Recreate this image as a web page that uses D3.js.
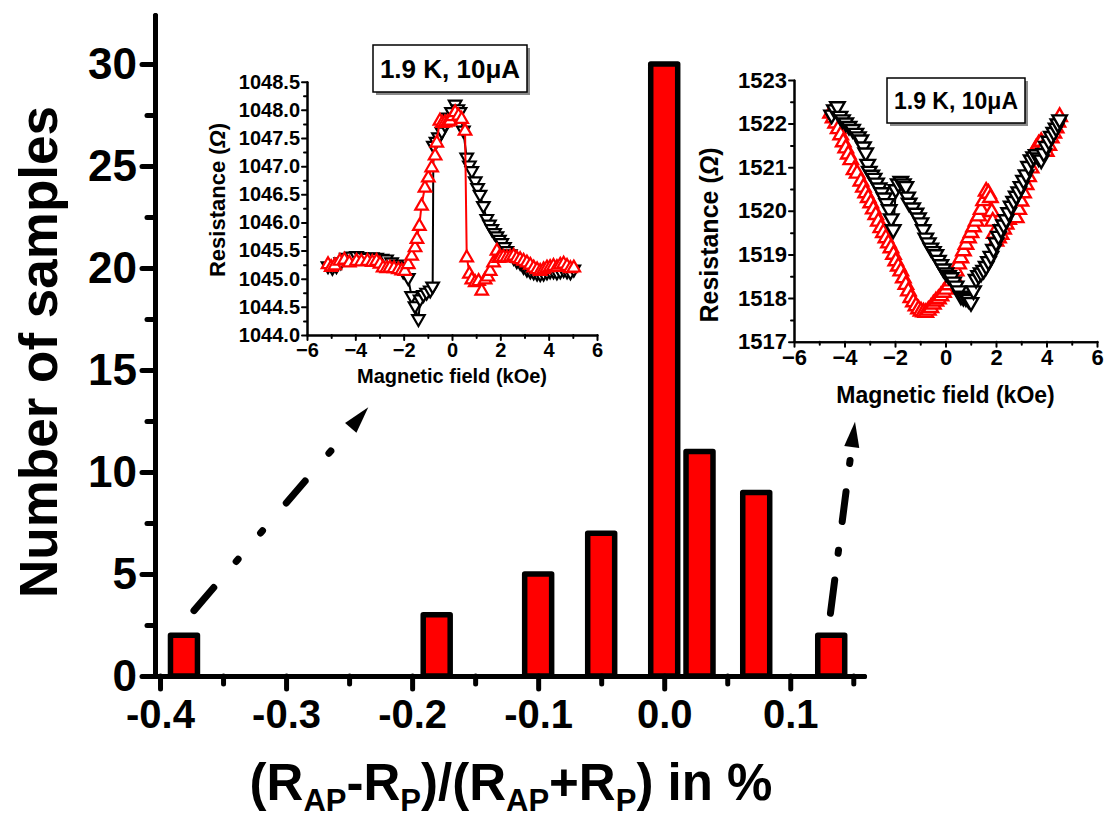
<!DOCTYPE html>
<html>
<head>
<meta charset="utf-8">
<script src="https://cdn.jsdelivr.net/npm/d3@7"></script>
<style>
  html, body { margin: 0; padding: 0; background: #fff; }
  svg { display: block; }
  text { font-family: "Liberation Sans", Arial, sans-serif; font-weight: bold; fill: #000; }
</style>
</head>
<body>
<svg id="chart" width="1106" height="819"></svg>
<script>
// ---- Histogram: TMR ratio distribution ----
const histCenters = [-0.381, -0.1805, -0.1, -0.05, 0.0, 0.028, 0.073, 0.1325];
const histCounts  = [2, 3, 5, 7, 30, 11, 9, 2];
const histBarWidth = 0.0214;
const xTickValues = [-0.4, -0.3, -0.2, -0.1, 0.0, 0.1];
const xTickLabels = ["-0.4", "-0.3", "-0.2", "-0.1", "0.0", "0.1"];
const yTickValues = [0, 5, 10, 15, 20, 25, 30];
const yTickLabels = ["0", "5", "10", "15", "20", "25", "30"];

// ---- Left inset: R(H) sweeps, sample with negative ratio ----
const in1FieldDown = [-5.13,-4.95,-4.78,-4.6,-4.37,-4.15,-3.95,-3.75,-3.54,-3.3,-3.12,-2.9,-2.71,-2.5,-2.29,-2.15,-2.02,-1.81,-1.67,-1.53,-1.39,-1.32,-1.18,-1.05,-0.9,-0.8,-0.77,-0.66,-0.56,-0.42,-0.29,-0.15,-0.02,0.13,0.24,0.33,0.47,0.61,0.72,0.82,0.96,1.06,1.16,1.30,1.44,1.55,1.65,1.76,1.86,1.96,2.06,2.17,2.27,2.41,2.55,2.68,2.82,2.96,3.1,3.24,3.38,3.52,3.65,3.79,3.93,4.06,4.2,4.34,4.48,4.62,4.76,4.9,5.04];
const in1ResDown   = [1045.21,1045.18,1045.21,1045.28,1045.36,1045.38,1045.39,1045.37,1045.36,1045.37,1045.36,1045.34,1045.33,1045.28,1045.24,1045.2,1045.12,1045.0,1044.68,1044.5,1044.27,1044.62,1044.7,1044.74,1044.78,1044.85,1047.35,1047.42,1047.5,1047.6,1047.72,1047.85,1047.95,1048.08,1048.0,1047.95,1047.62,1047.14,1047.0,1046.9,1046.72,1046.6,1046.48,1046.28,1046.05,1045.95,1045.87,1045.8,1045.74,1045.68,1045.62,1045.55,1045.48,1045.42,1045.36,1045.3,1045.27,1045.2,1045.15,1045.12,1045.1,1045.08,1045.07,1045.08,1045.1,1045.12,1045.12,1045.1,1045.12,1045.14,1045.12,1045.1,1045.15];
const in1FieldUp = [-5.13,-5.0,-4.85,-4.64,-4.45,-4.25,-3.95,-3.75,-3.5,-3.3,-3.12,-2.98,-2.85,-2.7,-2.57,-2.4,-2.22,-2.08,-1.95,-1.81,-1.67,-1.53,-1.45,-1.35,-1.26,-1.12,-0.98,-0.84,-0.7,-0.63,-0.5,-0.4,-0.29,-0.18,-0.08,0.03,0.13,0.27,0.4,0.54,0.61,0.72,0.82,0.96,1.1,1.23,1.37,1.48,1.58,1.72,1.86,1.93,2.0,2.13,2.27,2.41,2.55,2.68,2.82,2.96,3.1,3.24,3.38,3.52,3.65,3.79,3.93,4.06,4.2,4.34,4.48,4.62,4.76,4.9,5.04];
const in1ResUp   = [1045.27,1045.22,1045.25,1045.33,1045.35,1045.3,1045.33,1045.32,1045.33,1045.31,1045.33,1045.28,1045.21,1045.2,1045.21,1045.2,1045.18,1045.16,1045.15,1045.27,1045.42,1045.57,1045.72,1045.95,1046.31,1046.63,1046.81,1046.99,1047.2,1047.43,1047.82,1047.78,1047.79,1047.8,1047.82,1047.9,1047.97,1047.91,1047.85,1047.64,1045.39,1045.1,1045.0,1044.95,1044.97,1044.8,1045.0,1045.05,1045.15,1045.3,1045.51,1045.38,1045.39,1045.4,1045.39,1045.4,1045.42,1045.38,1045.36,1045.33,1045.3,1045.26,1045.21,1045.18,1045.15,1045.18,1045.21,1045.22,1045.24,1045.22,1045.26,1045.28,1045.24,1045.2,1045.21];
const in1YTicks = [1044.0,1044.5,1045.0,1045.5,1046.0,1046.5,1047.0,1047.5,1048.0,1048.5];

// ---- Right inset: R(H) sweeps, sample with positive ratio ----
const in2FieldDown = [-4.51,-4.4,-4.28,-4.18,-4.08,-3.95,-3.82,-3.68,-3.55,-3.45,-3.35,-3.25,-3.16,-3.08,-3.02,-2.92,-2.83,-2.73,-2.63,-2.53,-2.43,-2.33,-2.23,-2.15,-2.07,-1.97,-1.87,-1.77,-1.67,-1.57,-1.5,-1.44,-1.3,-1.17,-1.07,-0.97,-0.88,-0.78,-0.68,-0.58,-0.48,-0.38,-0.28,-0.18,-0.08,0.02,0.12,0.22,0.32,0.42,0.52,0.61,0.71,0.81,0.91,1.01,1.11,1.21,1.31,1.41,1.51,1.61,1.7,1.8,1.9,2.0,2.1,2.2,2.3,2.4,2.5,2.6,2.7,2.8,2.9,2.99,3.09,3.19,3.29,3.39,3.49,3.59,3.69,3.79,3.89,3.99,4.09,4.19,4.29,4.38,4.45,4.52];
const in2ResDown   = [1522.18,1522.3,1522.37,1522.15,1522.07,1522.0,1521.92,1521.85,1521.76,1521.68,1521.61,1521.45,1521.31,1521.05,1520.89,1520.8,1520.73,1520.62,1520.51,1520.4,1520.28,1520.15,1520.01,1519.8,1519.55,1520.47,1520.6,1520.66,1520.6,1520.54,1520.3,1520.16,1520.05,1519.93,1519.82,1519.71,1519.55,1519.36,1519.25,1519.13,1519.05,1518.98,1518.85,1518.75,1518.65,1518.56,1518.5,1518.45,1518.35,1518.26,1518.15,1518.03,1518.0,1517.99,1517.95,1517.88,1518.15,1518.41,1518.5,1518.56,1518.62,1518.71,1518.82,1518.94,1519.1,1519.25,1519.4,1519.55,1519.66,1519.78,1519.94,1520.09,1520.2,1520.32,1520.42,1520.54,1520.68,1520.81,1521.0,1521.15,1521.22,1521.27,1521.2,1521.15,1521.3,1521.46,1521.58,1521.69,1521.78,1521.88,1521.98,1522.07];
const in2FieldUp = [-4.55,-4.45,-4.35,-4.25,-4.15,-4.05,-3.95,-3.85,-3.75,-3.62,-3.5,-3.35,-3.25,-3.16,-3.06,-2.96,-2.86,-2.76,-2.66,-2.56,-2.46,-2.36,-2.26,-2.16,-2.06,-1.97,-1.87,-1.77,-1.67,-1.57,-1.47,-1.37,-1.27,-1.17,-1.07,-0.97,-0.87,-0.78,-0.68,-0.58,-0.48,-0.38,-0.28,-0.18,-0.08,0.02,0.12,0.22,0.32,0.42,0.52,0.61,0.71,0.81,0.91,1.01,1.11,1.21,1.31,1.41,1.51,1.61,1.7,1.78,1.83,1.87,1.93,2.0,2.1,2.2,2.3,2.4,2.5,2.6,2.7,2.8,2.9,2.99,3.09,3.19,3.29,3.39,3.49,3.59,3.69,3.79,3.89,3.99,4.09,4.19,4.29,4.38,4.45,4.52];
const in2ResUp   = [1522.26,1522.15,1522.03,1521.9,1521.76,1521.6,1521.46,1521.32,1521.19,1520.96,1520.88,1520.7,1520.56,1520.43,1520.32,1520.2,1520.06,1519.93,1519.78,1519.63,1519.52,1519.4,1519.28,1519.17,1519.02,1518.87,1518.75,1518.64,1518.48,1518.33,1518.18,1518.03,1517.93,1517.84,1517.77,1517.72,1517.7,1517.69,1517.74,1517.8,1517.88,1517.95,1518.0,1518.07,1518.15,1518.22,1518.32,1518.41,1518.52,1518.64,1518.8,1518.94,1519.1,1519.25,1519.4,1519.52,1519.65,1519.78,1519.9,1520.05,1520.25,1520.47,1520.42,1520.32,1520.0,1519.78,1519.5,1519.32,1519.4,1519.48,1519.6,1519.71,1519.82,1519.93,1519.9,1519.86,1520.05,1520.24,1520.43,1520.62,1520.8,1521.0,1521.25,1521.46,1521.55,1521.61,1521.5,1521.38,1521.52,1521.69,1521.8,1521.92,1522.05,1522.18];
const in2YTicks = [1517,1518,1519,1520,1521,1522,1523];

const fieldTicks = [-6,-4,-2,0,2,4,6];
const conditionLabel = "1.9 K, 10\u03BCA";

const svg = d3.select("#chart");

// ================= main histogram =================
const x = d3.scaleLinear().domain([-0.4135, 0.1585]).range([143, 864]);
const y = d3.scaleLinear().domain([0, 32.4]).range([676, 15]);
const yAxisX = 155;

// bars
svg.append("g").selectAll("rect")
  .data(histCenters.map((c, i) => ({ c, n: histCounts[i] })))
  .join("rect")
  .attr("x", d => x(d.c - histBarWidth / 2))
  .attr("width", d => x(d.c + histBarWidth / 2) - x(d.c - histBarWidth / 2))
  .attr("y", d => y(d.n))
  .attr("height", d => y(0) - y(d.n))
  .attr("fill", "#ff0000")
  .attr("stroke", "#000")
  .attr("stroke-width", 5.5)
  .attr("stroke-linejoin", "round");

function styleAxis(g, width) {
  g.selectAll("path.domain").attr("stroke", "#000").attr("stroke-width", width).attr("stroke-linecap", "round");
  g.selectAll(".tick line").attr("stroke", "#000").attr("stroke-width", width).attr("stroke-linecap", "round");
}
function styleTickText(g, size) {
  g.selectAll(".tick text").attr("font-size", size).attr("font-family", "Liberation Sans, Arial")
    .attr("font-weight", "bold").attr("fill", "#000");
}

// x axis: minor ticks then major with labels
const xMinor = d3.range(-0.35, 0.16, 0.1);
svg.append("g").attr("transform", `translate(0,${y(0)})`)
  .call(d3.axisBottom(x).tickValues(xMinor).tickSize(8).tickSizeOuter(0).tickFormat(""))
  .call(g => styleAxis(g, 5));
svg.append("g").attr("transform", `translate(0,${y(0)})`)
  .call(d3.axisBottom(x).tickValues(xTickValues).tickSize(13).tickSizeOuter(0).tickPadding(11)
    .tickFormat((d, i) => xTickLabels[i]))
  .call(g => styleAxis(g, 5))
  .call(g => styleTickText(g, 40));

// y axis
const yMinor = d3.range(2.5, 32, 5);
svg.append("g").attr("transform", `translate(${yAxisX},0)`)
  .call(d3.axisLeft(y).tickValues(yMinor).tickSize(8).tickSizeOuter(0).tickFormat(""))
  .call(g => styleAxis(g, 5));
svg.append("g").attr("transform", `translate(${yAxisX},0)`)
  .call(d3.axisLeft(y).tickValues(yTickValues).tickSize(13).tickSizeOuter(0).tickPadding(5)
    .tickFormat((d, i) => yTickLabels[i]))
  .call(g => styleAxis(g, 5))
  .call(g => styleTickText(g, 44));

// axis titles
svg.append("text")
  .attr("transform", "translate(57,352) rotate(-90)")
  .attr("text-anchor", "middle")
  .attr("font-size", 53)
  .text("Number of samples");

const xt = svg.append("text").attr("x", 511).attr("y", 800).attr("text-anchor", "middle").attr("font-size", 51);
const sub = 31, shift = 11;
xt.append("tspan").text("(R");
xt.append("tspan").attr("font-size", sub).attr("dy", shift).text("AP");
xt.append("tspan").attr("dy", -shift).text("-R");
xt.append("tspan").attr("font-size", sub).attr("dy", shift).text("P");
xt.append("tspan").attr("dy", -shift).text(")/(R");
xt.append("tspan").attr("font-size", sub).attr("dy", shift).text("AP");
xt.append("tspan").attr("dy", -shift).text("+R");
xt.append("tspan").attr("font-size", sub).attr("dy", shift).text("P");
xt.append("tspan").attr("dy", -shift).text(") in %");

// dash-dot pointers from the outlier bars to the insets
function pointer(x1, y1, x2, y2, dash, headLen, headHalf) {
  const ang = Math.atan2(y2 - y1, x2 - x1);
  const ux = Math.cos(ang), uy = Math.sin(ang);
  const bx = x2 - headLen * ux, by = y2 - headLen * uy;
  svg.append("line")
    .attr("x1", x1 + 3.5 * ux).attr("y1", y1 + 3.5 * uy).attr("x2", bx).attr("y2", by)
    .attr("stroke", "#000").attr("stroke-width", 7).attr("stroke-linecap", "round")
    .attr("stroke-dasharray", dash);
  const px = -uy, py = ux;
  svg.append("path")
    .attr("d", `M${x2},${y2}L${bx + headHalf * px},${by + headHalf * py}L${bx - headHalf * px},${by - headHalf * py}Z`)
    .attr("fill", "#000");
}
pointer(191.7, 613.3, 368.3, 407.3, "30.4,34.4,3,34.5,3,36.5,29,36.5,3,300", 27, 7.5);
pointer(830, 616.7, 855, 421.7, "33.5,27,3,29,30,28.5,3,300", 25.5, 7.6);

// ================= insets =================
function inset(opt) {
  const g = svg.append("g");
  const sx = d3.scaleLinear().domain([-6, 6]).range(opt.xr);
  const sy = d3.scaleLinear().domain(opt.yd).range(opt.yr);
  const fs = opt.fs;

  // axes
  g.append("g").attr("transform", `translate(0,${opt.yr[0]})`)
    .call(d3.axisBottom(sx).tickValues([-5,-3,-1,1,3,5]).tickSize(3).tickSizeOuter(0).tickFormat(""))
    .call(a => styleAxis(a, 2));
  g.append("g").attr("transform", `translate(0,${opt.yr[0]})`)
    .call(d3.axisBottom(sx).tickValues(fieldTicks).tickSize(5).tickSizeOuter(0).tickPadding(3).tickFormat(d3.format("d")))
    .call(a => styleAxis(a, 2))
    .call(a => styleTickText(a, fs));
  g.append("g").attr("transform", `translate(${opt.xr[0]},0)`)
    .call(d3.axisLeft(sy).tickValues(opt.yMinor).tickSize(3).tickSizeOuter(0).tickFormat(""))
    .call(a => styleAxis(a, 2));
  g.append("g").attr("transform", `translate(${opt.xr[0]},0)`)
    .call(d3.axisLeft(sy).tickValues(opt.yTicks).tickSize(5).tickSizeOuter(0).tickPadding(2).tickFormat(d3.format(opt.yFmt)))
    .call(a => styleAxis(a, 2))
    .call(a => styleTickText(a, fs));

  g.append("text").attr("x", (opt.xr[0] + opt.xr[1]) / 2).attr("y", opt.yr[0] + opt.xtDy)
    .attr("text-anchor", "middle").attr("font-size", opt.xtFs).text("Magnetic field (kOe)");
  const yt = g.append("text").attr("transform", `translate(${opt.ytX},${opt.ytY}) rotate(-90)`)
    .attr("text-anchor", "middle").attr("font-size", opt.ytFs);
  yt.append("tspan").text("Resistance (");
  yt.append("tspan").attr("font-style", "italic").text("\u03A9");
  yt.append("tspan").text(")");

  // data series
  const line = d3.line().x(d => sx(d[0])).y(d => sy(d[1]));
  opt.series.forEach(s => {
    const pts = s.xs.map((v, i) => [v, s.ys[i]]);
    const sg = g.append("g");
    sg.append("path").attr("d", line(pts)).attr("fill", "none").attr("stroke", s.color).attr("stroke-width", 2);
    sg.selectAll("path.m").data(pts).join("path").attr("class", "m")
      .attr("d", d3.symbol(d3.symbolTriangle, opt.symArea))
      .attr("transform", d => `translate(${sx(d[0])},${sy(d[1]) + (s.down ? -1 : 1)}) rotate(${s.down ? 180 : 0})`)
      .attr("fill", "#fff").attr("stroke", s.color).attr("stroke-width", opt.symStroke);
  });

  // condition label box with drop shadow
  const b = opt.box;
  g.append("rect").attr("x", b[0] + 3).attr("y", b[1] + 3).attr("width", b[2]).attr("height", b[3]).attr("fill", "#8a8a8a");
  g.append("rect").attr("x", b[0]).attr("y", b[1]).attr("width", b[2]).attr("height", b[3]).attr("fill", "#fff").attr("stroke", "#000").attr("stroke-width", 1.5);
  g.append("text").attr("x", b[0] + b[2] / 2).attr("y", b[1] + b[3] / 2 + opt.boxFs * 0.36)
    .attr("text-anchor", "middle").attr("font-size", opt.boxFs).text(conditionLabel);
}

inset({
  xr: [307, 597], yr: [335, 81.7], yd: [1044, 1048.5],
  yTicks: in1YTicks, yMinor: d3.range(1044.25, 1048.5, 0.5), yFmt: ".1f",
  fs: 20, xtFs: 20, xtDy: 48, ytFs: 22, ytX: 225, ytY: 200,
  symArea: 68, symStroke: 2.2,
  series: [
    { xs: in1FieldDown, ys: in1ResDown, color: "#000", down: true },
    { xs: in1FieldUp, ys: in1ResUp, color: "#ff0000", down: false }
  ],
  box: [373, 45, 154, 47], boxFs: 26
});

inset({
  xr: [794, 1097], yr: [341.7, 80], yd: [1517, 1523],
  yTicks: in2YTicks, yMinor: d3.range(1517.5, 1523, 1), yFmt: "d",
  fs: 22, xtFs: 23, xtDy: 61, ytFs: 25, ytX: 718, ytY: 235,
  symArea: 90, symStroke: 2.4,
  series: [
    { xs: in2FieldUp, ys: in2ResUp, color: "#ff0000", down: false },
    { xs: in2FieldDown, ys: in2ResDown, color: "#000", down: true }
  ],
  box: [887, 78, 138, 45], boxFs: 23
});
</script>
</body>
</html>
